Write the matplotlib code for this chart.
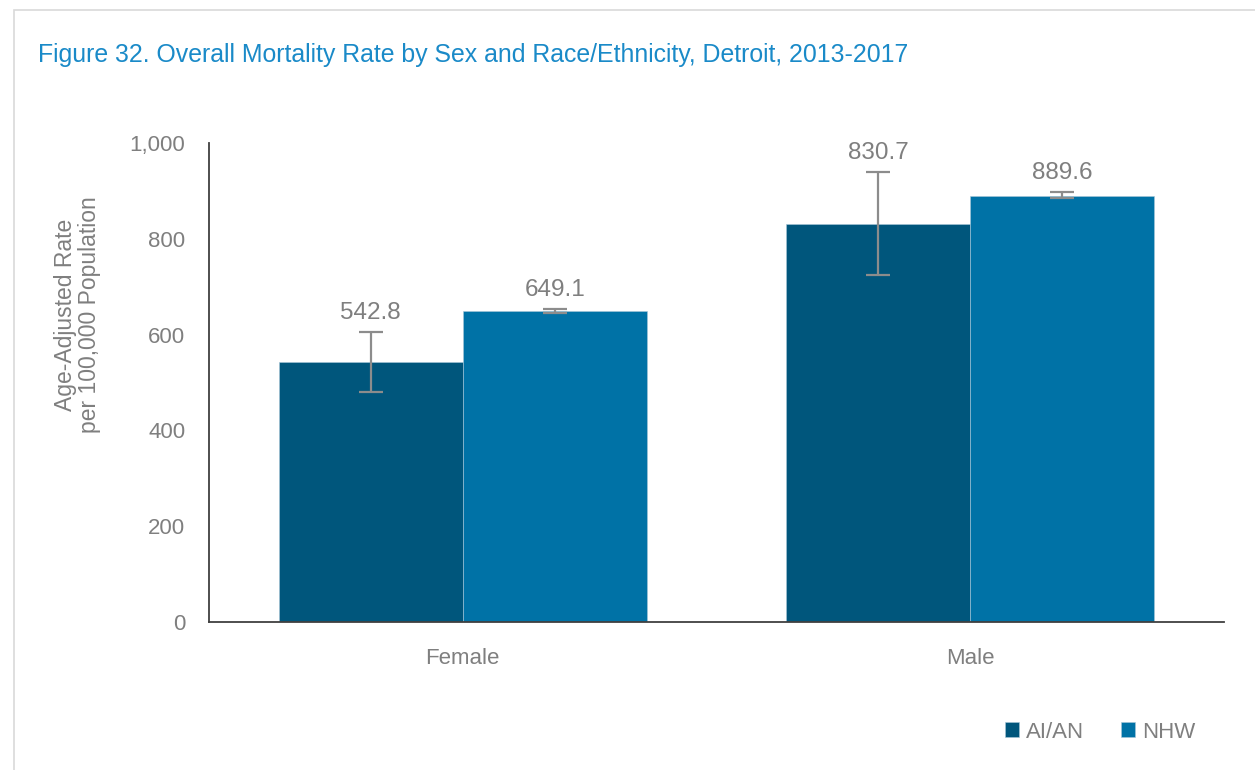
import matplotlib
matplotlib.use("Agg")
import matplotlib.pyplot as plt
from matplotlib.patches import Rectangle
import numpy as np

categories = ["Female", "Male"]
series_names = ["AI/AN", "NHW"]
aian_values = [542.8, 830.7]
nhw_values = [649.1, 889.6]
aian_lower = [480, 724]
aian_upper = [605, 939]
nhw_lower = [645, 885]
nhw_upper = [653, 898]
y_ticks = [0, 200, 400, 600, 800, 1000]

FONT = ['Liberation Sans Narrow', 'Liberation Sans', 'DejaVu Sans']
plt.rcParams['font.family'] = FONT
GRAY = "#7f7f7f"
colors = ["#00567c", "#0072a6"]

fig = plt.figure(figsize=(12.55, 7.7), dpi=100)
fig.patches.append(Rectangle((14/1255, -0.01), 1.0, 1.01 - 10/770, transform=fig.transFigure,
                             fill=False, edgecolor="#d9d9d9", linewidth=1.2))
ax = fig.add_axes([209/1255, 148/770, (1224-209)/1255, (622-143)/770])

x = np.arange(len(categories))
w = 0.3626
vals = [aian_values, nhw_values]
lows = [aian_lower, nhw_lower]
ups = [aian_upper, nhw_upper]
offsets = [-w/2, w/2]
for i in range(2):
    v = np.array(vals[i]); lo = np.array(lows[i]); up = np.array(ups[i])
    ax.bar(x + offsets[i], v, width=w, color=colors[i], label=series_names[i],
           edgecolor="#a9c7d8", linewidth=0.4, zorder=2)
    ax.errorbar(x + offsets[i], v, yerr=[v - lo, up - v], fmt='none', ecolor="#8c8c8c",
                elinewidth=1.6, capsize=8.5, capthick=1.6, zorder=3)
    for xi, vi, ui in zip(x + offsets[i], v, up):
        ax.annotate(f"{vi:.1f}", (xi, max(ui, vi)), xytext=(0, 6), textcoords="offset points",
                    ha="center", va="bottom", fontsize=17.5, color=GRAY)

ax.set_xlim(-0.5, 1.5)
ax.set_ylim(0, 1000)
ax.set_yticks(y_ticks)
ax.set_yticklabels([f"{t:,}" for t in y_ticks])
ax.set_xticks(x)
ax.set_xticklabels(categories)
ax.tick_params(axis='both', length=0, colors=GRAY, labelsize=16)
ax.tick_params(axis='y', pad=17)
ax.tick_params(axis='x', pad=19)
for s in ["top", "right"]:
    ax.spines[s].set_visible(False)
ax.spines["left"].set_color("#404040")
ax.spines["bottom"].set_color("#404040")
ax.spines["left"].set_linewidth(1.3)
ax.spines["bottom"].set_linewidth(1.3)
ax.set_ylabel("Age-Adjusted Rate\nper 100,000 Population", fontsize=16.5, color=GRAY,
              linespacing=1.05)
ax.yaxis.set_label_coords((101 - 209) / (1224 - 209), (622 - 315) / (622 - 143))

fig.text(38/1255, 1 - 55/770, "Figure 32. Overall Mortality Rate by Sex and Race/Ethnicity, Detroit, 2013-2017",
         fontsize=17.95, color="#1a8ac8", ha="left", va="center")

leg = fig.legend(loc="center right", bbox_to_anchor=(1195/1255, 1 - 732/770), ncol=2, frameon=False,
                 fontsize=16, handlelength=0.65, handleheight=0.65, handletextpad=0.3, columnspacing=1.65,
                 labelcolor=GRAY, borderpad=0, borderaxespad=0)

fig.savefig("out.png", dpi=100, facecolor="white")
